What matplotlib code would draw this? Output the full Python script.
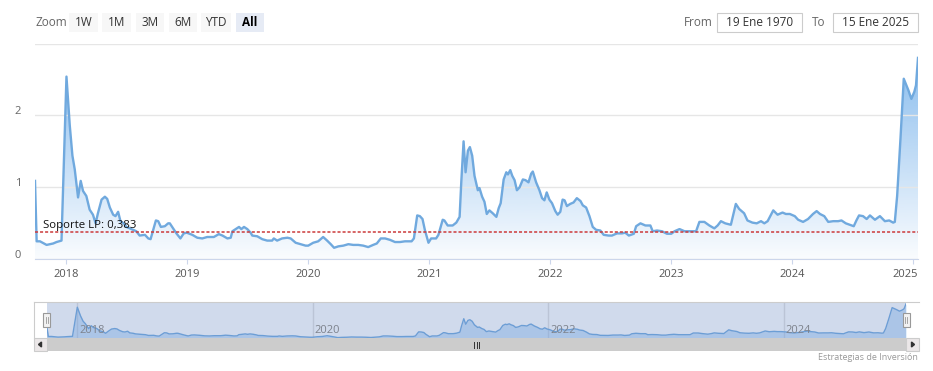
import matplotlib
matplotlib.use("Agg")
import matplotlib.pyplot as plt
import matplotlib.dates as mdates
from matplotlib.patches import Polygon, Rectangle
from matplotlib.colors import to_rgb
from matplotlib.transforms import ScaledTranslation, blended_transform_factory
import numpy as np
import pandas as pd

plt.rcParams["font.family"] = ["Open Sans", "DejaVu Sans"]

# serie (fechas y valores)
FECHAS = [
    "2017-09-28", "2017-10-03", "2017-10-13", "2017-11-02", "2017-11-22", "2017-12-02", "2017-12-17",
    "2018-01-01", "2018-01-11", "2018-01-19", "2018-01-26", "2018-02-05", "2018-02-13", "2018-02-20",
    "2018-03-02", "2018-03-12", "2018-03-22", "2018-03-30", "2018-04-06", "2018-04-17", "2018-04-27",
    "2018-05-04", "2018-05-12", "2018-05-22", "2018-05-29", "2018-06-06", "2018-06-13", "2018-06-23",
    "2018-07-01", "2018-07-11", "2018-07-31", "2018-08-10", "2018-08-26", "2018-09-05", "2018-09-12",
    "2018-09-20", "2018-09-28", "2018-10-05", "2018-10-13", "2018-10-25", "2018-11-04", "2018-11-09",
    "2018-11-19", "2018-11-29", "2018-12-11", "2018-12-21", "2018-12-30",
    "2019-01-16", "2019-01-31", "2019-02-15", "2019-03-02", "2019-03-22", "2019-04-06", "2019-04-17",
    "2019-05-02", "2019-05-12", "2019-05-17", "2019-05-27", "2019-06-06", "2019-06-13", "2019-06-21",
    "2019-07-01", "2019-07-11", "2019-07-16", "2019-07-31", "2019-08-15", "2019-08-30", "2019-09-14",
    "2019-09-19", "2019-09-29", "2019-10-14", "2019-10-30", "2019-11-09", "2019-11-24", "2019-12-09",
    "2019-12-24",
    "2020-01-01", "2020-01-16", "2020-01-31", "2020-02-15", "2020-02-27", "2020-03-09", "2020-03-19",
    "2020-04-01", "2020-04-16", "2020-05-01", "2020-05-16", "2020-05-31", "2020-06-15", "2020-06-30",
    "2020-07-15", "2020-07-26", "2020-08-07", "2020-08-20", "2020-09-04", "2020-09-19", "2020-10-04",
    "2020-10-19", "2020-11-08", "2020-11-15", "2020-11-25", "2020-12-03", "2020-12-11", "2020-12-18",
    "2020-12-29",
    "2021-01-06", "2021-01-21", "2021-01-28", "2021-02-10", "2021-02-15", "2021-02-25", "2021-03-12",
    "2021-03-23", "2021-04-02", "2021-04-07", "2021-04-14", "2021-04-20", "2021-04-27", "2021-05-03",
    "2021-05-10", "2021-05-17", "2021-05-27", "2021-06-01", "2021-06-09", "2021-06-16", "2021-06-23",
    "2021-07-01", "2021-07-11", "2021-07-22", "2021-07-29", "2021-08-04", "2021-08-13", "2021-08-21",
    "2021-08-26", "2021-09-02", "2021-09-08", "2021-09-15", "2021-09-22", "2021-09-30", "2021-10-10",
    "2021-10-18", "2021-10-27", "2021-11-04", "2021-11-09", "2021-11-19", "2021-11-29", "2021-12-07",
    "2021-12-14", "2021-12-21", "2021-12-29",
    "2022-01-06", "2022-01-16", "2022-01-23", "2022-01-31", "2022-02-07", "2022-02-13", "2022-02-20",
    "2022-03-02", "2022-03-12", "2022-03-22", "2022-04-02", "2022-04-09", "2022-04-19", "2022-04-29",
    "2022-05-09", "2022-05-19", "2022-06-01", "2022-06-11", "2022-06-26", "2022-07-06", "2022-07-21",
    "2022-08-05", "2022-08-15", "2022-08-26", "2022-09-10", "2022-09-17", "2022-09-30", "2022-10-15",
    "2022-10-30", "2022-11-06", "2022-11-19", "2022-12-04", "2022-12-19",
    "2023-01-01", "2023-01-11", "2023-01-26", "2023-02-10", "2023-03-02", "2023-03-17", "2023-03-27",
    "2023-04-11", "2023-04-26", "2023-05-11", "2023-05-21", "2023-05-31", "2023-06-13", "2023-06-30",
    "2023-07-15", "2023-07-25", "2023-08-09", "2023-08-19", "2023-09-03", "2023-09-16", "2023-09-29",
    "2023-10-09", "2023-10-19", "2023-11-05", "2023-11-18", "2023-12-03", "2023-12-13", "2023-12-25",
    "2024-01-09", "2024-01-19", "2024-02-03", "2024-02-18", "2024-03-04", "2024-03-15", "2024-03-25",
    "2024-04-07", "2024-04-19", "2024-05-04", "2024-05-19", "2024-05-29", "2024-06-11", "2024-06-23",
    "2024-07-05", "2024-07-13", "2024-07-21", "2024-08-02", "2024-08-13", "2024-08-23", "2024-09-07",
    "2024-09-22", "2024-10-07", "2024-10-20", "2024-11-01", "2024-11-06", "2024-11-13", "2024-11-23",
    "2024-12-03", "2024-12-11", "2024-12-17", "2024-12-26",
    "2025-01-04", "2025-01-09", "2025-01-15",
]
VALORES = [
    1.09, 0.25, 0.25, 0.20, 0.22, 0.24, 0.26,
    2.54, 1.86, 1.44, 1.25, 0.86, 1.09, 0.95,
    0.88, 0.69, 0.62, 0.50, 0.64, 0.83, 0.87,
    0.84, 0.72, 0.62, 0.60, 0.66, 0.53, 0.50,
    0.45, 0.43, 0.39, 0.33, 0.34, 0.29, 0.28,
    0.41, 0.54, 0.53, 0.45, 0.46, 0.50, 0.50,
    0.43, 0.36, 0.29, 0.36, 0.37,
    0.34, 0.30, 0.29, 0.31, 0.31, 0.35, 0.33,
    0.29, 0.30, 0.39, 0.42, 0.45, 0.42, 0.45,
    0.42, 0.37, 0.33, 0.32, 0.28, 0.26, 0.26,
    0.29, 0.26, 0.29, 0.30, 0.29, 0.23, 0.21,
    0.19,
    0.19, 0.23, 0.25, 0.31, 0.26, 0.21, 0.16,
    0.18, 0.19, 0.21, 0.20, 0.20, 0.19, 0.17,
    0.20, 0.22, 0.29, 0.29, 0.27, 0.24, 0.24,
    0.25, 0.25, 0.29, 0.61, 0.60, 0.56, 0.41,
    0.23,
    0.29, 0.29, 0.34, 0.55, 0.54, 0.47, 0.47,
    0.51, 0.59, 1.07, 1.64, 1.21, 1.51, 1.56,
    1.44, 1.16, 0.96, 0.99, 0.87, 0.80, 0.63,
    0.68, 0.64, 0.59, 0.71, 0.78, 1.11, 1.21,
    1.18, 1.24, 1.16, 1.10, 0.96, 1.00, 1.11,
    1.10, 1.07, 1.19, 1.22, 1.07, 0.96, 0.85,
    0.82, 0.93, 0.83,
    0.78, 0.67, 0.62, 0.66, 0.83, 0.82, 0.74,
    0.77, 0.79, 0.85, 0.81, 0.75, 0.72, 0.60,
    0.45, 0.41, 0.40, 0.34, 0.33, 0.33, 0.36,
    0.36, 0.37, 0.33, 0.355, 0.46, 0.50, 0.47,
    0.47, 0.39, 0.40, 0.39, 0.355,
    0.355, 0.39, 0.42, 0.39, 0.39, 0.39, 0.52,
    0.52, 0.47, 0.43, 0.47, 0.53, 0.50, 0.48,
    0.77, 0.70, 0.64, 0.54, 0.51, 0.50, 0.53,
    0.50, 0.53, 0.68, 0.62, 0.65, 0.63, 0.63,
    0.60, 0.55, 0.52, 0.56, 0.63, 0.67, 0.63,
    0.60, 0.52, 0.53, 0.53, 0.54, 0.50, 0.48,
    0.46, 0.54, 0.61, 0.60, 0.56, 0.61, 0.55,
    0.60, 0.53, 0.54, 0.51, 0.52, 0.88, 1.67,
    2.51, 2.42, 2.35, 2.23,
    2.33, 2.42, 2.80,
]
SOPORTE = 0.383
ETIQUETA_SOPORTE = "Soporte LP: 0,383"
ANIOS = [2018, 2019, 2020, 2021, 2022, 2023, 2024, 2025]
ANIOS_NAV = [2018, 2020, 2022, 2024]
Y_TICKS = [0, 1, 2, 3]
Y_LABELS = ["0", "1", "2", ""]
BOTONES = ["1W", "1M", "3M", "6M", "YTD", "All"]
BOTON_ACTIVO = "All"
DESDE = "19 Ene 1970"
HASTA = "15 Ene 2025"
CREDITO = "Estrategias de Inversión"

AZUL = "#7cb5ec"
LINEA = "#70a9de"
W, H = 933, 371
fig = plt.figure(figsize=(W / 100, H / 100), dpi=100)


def caja(x0, y0, x1, y1):
    """Caja en pixeles (origen arriba-izquierda) -> [left, bottom, width, height] de figura."""
    return [x0 / W, 1 - y1 / H, (x1 - x0) / W, (y1 - y0) / H]


def px(n):
    return ScaledTranslation(n / 100, 0, fig.dpi_scale_trans)


xs = mdates.date2num(pd.to_datetime(FECHAS))
vals = np.array(VALORES)
x_anios = mdates.date2num(pd.to_datetime([f"{a}-01-01" for a in ANIOS]))
x_nav = mdates.date2num(pd.to_datetime([f"{a}-01-01" for a in ANIOS_NAV]))

# ---- grafico principal ----
ax = fig.add_axes(caja(35, 43.5, 918, 259.3))
ax.set_facecolor("none")

rgba = np.zeros((256, 1, 4))
rgba[..., :3] = to_rgb(AZUL)
rgba[..., 3] = np.linspace(0.95, 0.04, 256)[:, None]
zona = Polygon(np.column_stack([np.r_[xs[0], xs, xs[-1]], np.r_[0, vals, 0]]),
               closed=True, facecolor="none", edgecolor="none")
ax.add_patch(zona)
im = ax.imshow(rgba, extent=[xs[0], xs[-1], 0, 3], aspect="auto", origin="upper", zorder=1)
im.set_clip_path(zona)
ax.plot(xs, vals, color=LINEA, lw=1.7, zorder=3, solid_joinstyle="round")

ax.axhline(SOPORTE, color="#cc3b3b", lw=1.1, ls=(0, (2, 1.3)), zorder=4)
ax.text(0.009, SOPORTE, ETIQUETA_SOPORTE,
        transform=blended_transform_factory(ax.transAxes, ax.transData) + ScaledTranslation(0, 1 / 100, fig.dpi_scale_trans),
        ha="left", va="bottom", fontsize=8.2, color="#111111", zorder=5)

ax.set_xlim(xs[0], xs[-1])
ax.set_ylim(0, 3)
ax.set_yticks(Y_TICKS)
ax.set_yticklabels(Y_LABELS)
ax.grid(axis="y", color="#e6e6e6", lw=1, zorder=0)
ax.tick_params(axis="y", length=0, pad=10, labelsize=8, labelcolor="#666666")
for lab in ax.get_yticklabels():
    lab.set_transform(lab.get_transform() + ScaledTranslation(0, 5 / 100, fig.dpi_scale_trans))

ax.set_xticks(x_anios)
ax.set_xticklabels([str(a) for a in ANIOS])
ax.tick_params(axis="x", length=3.6, color="#ccd6eb", pad=3.2, labelsize=8, labelcolor="#555555")
ax.get_xticklabels()[-1].set_transform(ax.get_xticklabels()[-1].get_transform() + px(-8))
for s in ["top", "right", "left"]:
    ax.spines[s].set_visible(False)
ax.spines["bottom"].set_color("#ccd6eb")

# ---- navegador ----
axn = fig.add_axes(caja(46.7, 302, 906, 338))
axn.set_facecolor("none")
axn.fill_between(xs, vals, 0, color=AZUL, alpha=0.4, lw=0, zorder=2)
axn.plot(xs, vals, color=LINEA, lw=1, zorder=3)
for xv in x_nav:
    axn.axvline(xv, color="#e0e0e0", lw=1, zorder=1)
axn.add_patch(Rectangle((0, 0), 1, 1, transform=axn.transAxes,
                        facecolor=(102 / 255, 133 / 255, 194 / 255, 0.3), lw=0, zorder=5))
tr_nav = blended_transform_factory(axn.transData, axn.transAxes) + px(2)
for xv, a in zip(x_nav, ANIOS_NAV):
    axn.text(xv, 0.2, str(a), transform=tr_nav, ha="left", va="center",
             fontsize=8, color="#7d828c", zorder=6)
axn.set_xlim(xs[0], xs[-1])
axn.set_ylim(0.13, 2.95)
axn.axis("off")

# ---- controles (pixeles) ----
ov = fig.add_axes([0, 0, 1, 1])
ov.set_xlim(0, W)
ov.set_ylim(H, 0)
ov.axis("off")

ov.text(35, 22.5, "Zoom", ha="left", va="center", fontsize=8.5, color="#666666")
pos_botones = [(69, 98), (102, 131), (136, 164), (169, 197), (201, 231), (236, 264)]
for (b0, b1), nombre in zip(pos_botones, BOTONES):
    activo = nombre == BOTON_ACTIVO
    ov.add_patch(Rectangle((b0, 13), b1 - b0, 19, facecolor="#e6ebf5" if activo else "#f7f7f7", lw=0))
    ov.text((b0 + b1) / 2, 22.5, nombre, ha="center", va="center", fontsize=8.5,
            color="#000000" if activo else "#333333", fontweight="bold" if activo else "normal")

ov.text(684, 22.5, "From", ha="left", va="center", fontsize=8.5, color="#666666")
ov.text(812, 22.5, "To", ha="left", va="center", fontsize=8.5, color="#666666")
for (b0, b1), txt in [((717, 802), DESDE), ((833, 918), HASTA)]:
    ov.add_patch(Rectangle((b0, 13), b1 - b0, 19, facecolor="white", edgecolor="#cccccc", lw=0.8))
    ov.text((b0 + b1) / 2, 22.5, txt, ha="center", va="center", fontsize=8.5, color="#333333")

# marco del navegador
ov.plot([34, 919], [302, 302], color="#cccccc", lw=0.8)
ov.plot([34, 34], [302, 338], color="#cccccc", lw=0.8)

# barra de desplazamiento
ov.add_patch(Rectangle((34, 338), 885, 13, facecolor="#f2f2f2", lw=0))
ov.add_patch(Rectangle((46.7, 338), 906 - 46.7, 13, facecolor="#cccccc", lw=0))
for b0 in (34, 906):
    ov.add_patch(Rectangle((b0, 338), 12.7, 13, facecolor="#ebe7e8", edgecolor="#cccccc", lw=0.8))
ov.add_patch(Polygon([[38.5, 344.5], [41.5, 342], [41.5, 347]], closed=True, color="#333333"))
ov.add_patch(Polygon([[914.5, 344.5], [911.5, 342], [911.5, 347]], closed=True, color="#333333"))
for gx in (474, 476.5, 479):
    ov.plot([gx, gx], [341.5, 347.5], color="#333333", lw=0.7)

# asas del navegador
for cx in (46.7, 906):
    ov.add_patch(Rectangle((cx - 3.5, 313), 7, 14, facecolor="#f2f2f2", edgecolor="#999999", lw=0.8, zorder=6))
    for dx in (-1, 1):
        ov.plot([cx + dx, cx + dx], [317, 323], color="#999999", lw=0.6, zorder=7)

fig.text(918 / W, 1 - 357 / H, CREDITO, ha="right", va="center", fontsize=6.5, color="#999999")

fig.savefig("out.png", dpi=100)
